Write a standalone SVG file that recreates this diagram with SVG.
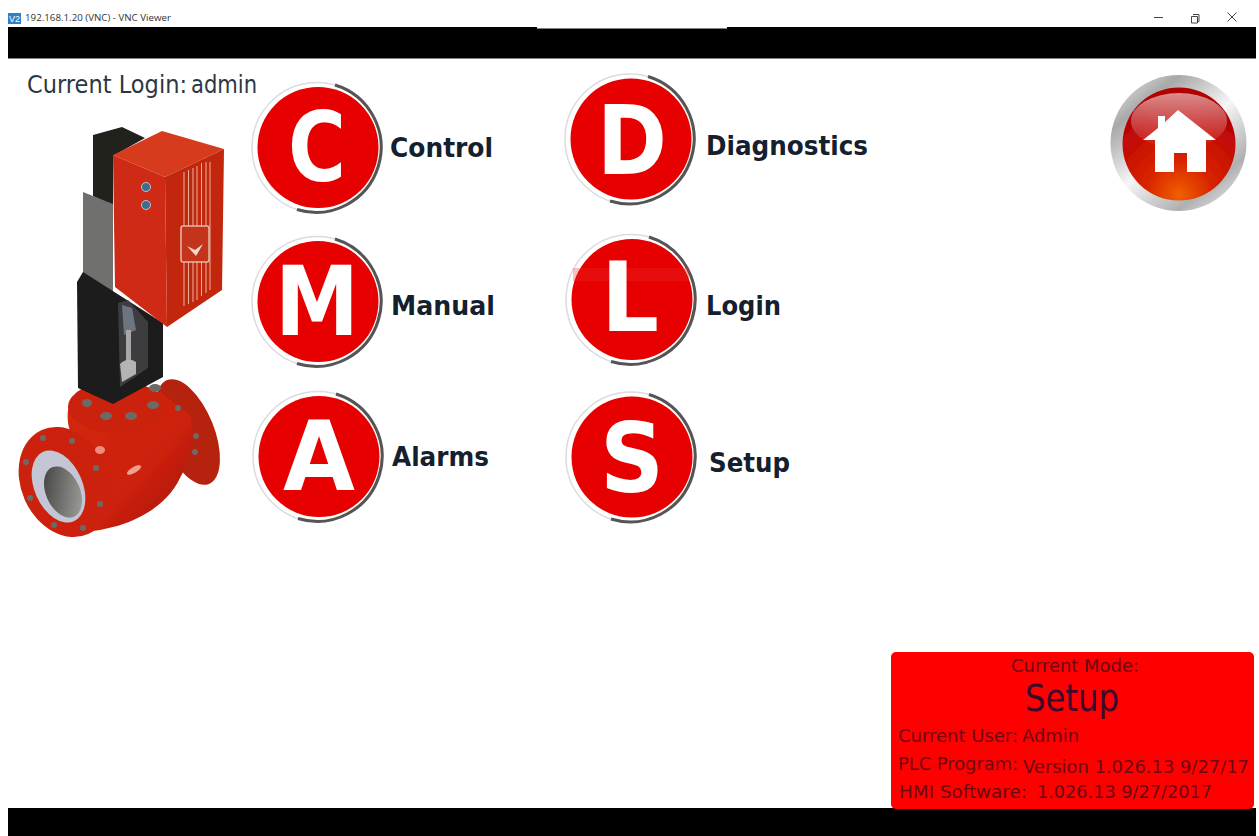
<svg xmlns="http://www.w3.org/2000/svg" width="1259" height="836" viewBox="0 0 1259 836">
<style>
text{font-family:"DejaVu Sans","Liberation Sans",sans-serif}
.lbl{font-size:27px;font-weight:700;fill:#15202e}
.ltr{font-weight:700;fill:#fff;font-size:97px}
.st{font-size:18px;fill:#6c0812}
.login{font-size:24px;fill:#2b3742}
.ttl{font-size:9.5px;fill:#333;font-family:"Open Sans","Liberation Sans",sans-serif}
.halo{fill:#fff;stroke:#dcdcdc;stroke-width:1.5}
.shade{fill:none;stroke:#555;stroke-width:3}
.red{fill:#e60000}
.bolt{fill:#6d6a66}
.win{fill:none;stroke:#444;stroke-width:1}
.btn{filter:url(#softer)}
</style>
<defs>
<filter id="soft" x="-5%" y="-5%" width="110%" height="110%"><feGaussianBlur stdDeviation="0.7"/></filter>
<filter id="softer" x="-5%" y="-5%" width="110%" height="110%"><feGaussianBlur stdDeviation="0.4"/></filter>
<linearGradient id="chrome" x1="0.1" y1="0" x2="0.9" y2="1"><stop offset="0" stop-color="#e4e4e4"/><stop offset="0.2" stop-color="#a8a8a8"/><stop offset="0.5" stop-color="#f6f6f6"/><stop offset="0.8" stop-color="#b0b0b0"/><stop offset="1" stop-color="#ececec"/></linearGradient>
<radialGradient id="homeRed" cx="0.5" cy="0.95" r="0.85"><stop offset="0" stop-color="#f06000"/><stop offset="0.35" stop-color="#d82400"/><stop offset="0.8" stop-color="#c00808"/><stop offset="1" stop-color="#b00000"/></radialGradient>
<linearGradient id="gloss" x1="0" y1="0" x2="0" y2="1"><stop offset="0" stop-color="#fff" stop-opacity="0.55"/><stop offset="1" stop-color="#fff" stop-opacity="0"/></linearGradient>
<linearGradient id="bodyRed" x1="0" y1="0" x2="1" y2="1"><stop offset="0" stop-color="#d42a10"/><stop offset="0.6" stop-color="#cc200c"/><stop offset="1" stop-color="#a01808"/></linearGradient>
<linearGradient id="bore" x1="0" y1="0" x2="1" y2="1"><stop offset="0" stop-color="#3a3a38"/><stop offset="1" stop-color="#a8a8a4"/></linearGradient>
</defs>
<rect width="1259" height="836" fill="#fff"/>

<g id="title-bar">
<rect x="8" y="13" width="13" height="11" fill="#2f80c8"/>
<text x="14.500" y="22" font-size="9" fill="#fff" text-anchor="middle" style="font-family:'Liberation Sans',sans-serif">V2</text>
<text class="ttl" x="25" y="21" textLength="146" lengthAdjust="spacingAndGlyphs">192.168.1.20 (VNC) - VNC Viewer</text>
<path class="win" d="M1154 17.500h9M1193 14.500h6v7h-2M1191.500 16.500h6v6.500h-6zM1227.500 12.500l9 9M1236.500 12.500l-9 9"/>
</g>
<g id="top-bar">
<rect x="8" y="27" width="1248" height="31.500" fill="#000"/>
<rect x="537" y="27" width="190" height="1.500" fill="#fff"/>
</g>
<rect id="bottom-bar" x="8" y="808" width="1248" height="28" fill="#000"/>

<text id="current-login" class="login"><tspan x="27" y="93" textLength="160" lengthAdjust="spacingAndGlyphs">Current Login:</tspan><tspan x="191" y="93" textLength="66" lengthAdjust="spacingAndGlyphs">admin</tspan></text>

<g id="valve" filter="url(#soft)">
<ellipse cx="188" cy="432" rx="26" ry="56" transform="rotate(-22 188 432)" fill="#b5200e"/>
<path d="M68 410C66 428 72 440 84 448C70 460 66 470 80 532C125 530 165 510 180 478C190 460 195 440 190 415L160 392Z" fill="url(#bodyRed)"/>
<ellipse cx="117" cy="407" rx="49" ry="26" fill="#cb220e"/>
<ellipse cx="65" cy="482" rx="44" ry="57" transform="rotate(-24 65 482)" fill="#cc2410"/>
<ellipse cx="58.500" cy="486.500" rx="24" ry="38" transform="rotate(-24 58.500 486.500)" fill="#c4c6d6"/>
<ellipse cx="63" cy="492" rx="17" ry="27" transform="rotate(-24 63 492)" fill="url(#bore)"/>
<ellipse cx="134" cy="470" rx="8" ry="3" transform="rotate(-30 134 470)" fill="#f0a090"/>
<ellipse cx="100" cy="450" rx="5" ry="4" fill="#eb8e7e"/>
<g class="bolt">
<ellipse cx="87" cy="403" rx="5" ry="4"/><ellipse cx="106" cy="416" rx="6" ry="4"/><ellipse cx="131" cy="416" rx="6" ry="4"/><ellipse cx="153" cy="405" rx="6" ry="4"/><ellipse cx="155" cy="388" rx="6" ry="4"/>
<circle cx="96" cy="468" r="3"/><circle cx="100" cy="504" r="3"/><circle cx="83" cy="528" r="3"/><circle cx="54" cy="525" r="3"/><circle cx="30" cy="498" r="3"/><circle cx="26" cy="462" r="3"/><circle cx="43" cy="438" r="3"/><circle cx="72" cy="441" r="3"/>
<circle cx="178" cy="408" r="3"/><circle cx="196" cy="436" r="3"/><circle cx="195" cy="452" r="3"/>
</g>
<path d="M93 135L122 127L145 138L113 156V206L93 196Z" fill="#20201f"/>
<path d="M83 192L113 204V292L83 276Z" fill="#6f6f6e"/>
<path d="M77 282L83 272L163 323V377L113 404L78 388Z" fill="#1c1c1c"/>
<path d="M118 303L128 300L148 322V368L120 387Z" fill="#3c3e40"/>
<path d="M122 305L132 308L136 330L124 335Z" fill="#6d7580"/>
<path d="M126 330H131V362H126Z" fill="#a8a8a8"/>
<path d="M120 364Q128 356 136 362V374L122 382Z" fill="#b4b4b2"/>
<path d="M113 155L162 131L224 149L165 177Z" fill="#d53a1c"/>
<path d="M113 155L165 177L167 327L115 287Z" fill="#cf2c14"/>
<path d="M165 177L224 149L222 290L167 327Z" fill="#c2280f"/>
<path d="M184 172V306M188.500 170V304M193 168V302M197 166V300M201.500 163V296M206 162V293M210 162V290" stroke="#e8b09c" stroke-width="1" fill="none"/>
<rect x="181" y="226" width="28" height="36" rx="2" fill="#c2361c" stroke="#e8b8a8" stroke-width="1.500"/>
<path d="M187 246L195 250L203 244L196 256Z" fill="#eed8d0"/>
<circle cx="146" cy="187" r="4.500" fill="#3c6c8c" stroke="#b8c4cc"/>
<circle cx="146" cy="205" r="4.500" fill="#3c6c8c" stroke="#b8c4cc"/>
</g>

<g id="btn-control">
<g class="btn">
<circle class="halo" cx="317" cy="147.500" r="65"/>
<path class="shade" d="M335 85A65 65 0 0 1 297 209.500"/>
<circle class="red" cx="318" cy="147.500" r="60.500"/>
<text class="ltr" x="288" y="181" textLength="58" lengthAdjust="spacingAndGlyphs">C</text>
</g>
<text class="lbl" x="390" y="157" textLength="103" lengthAdjust="spacingAndGlyphs">Control</text>
</g>
<g id="btn-diagnostics">
<g class="btn">
<circle class="halo" cx="630" cy="139" r="65"/>
<path class="shade" d="M648 76.500A65 65 0 0 1 610 201"/>
<circle class="red" cx="631" cy="139" r="60.500"/>
<text class="ltr" x="597" y="174" textLength="70" lengthAdjust="spacingAndGlyphs">D</text>
</g>
<text class="lbl" x="706" y="155" textLength="162" lengthAdjust="spacingAndGlyphs">Diagnostics</text>
</g>
<g id="btn-manual">
<g class="btn">
<circle class="halo" cx="317" cy="301.500" r="65"/>
<path class="shade" d="M335 239A65 65 0 0 1 297 363.500"/>
<circle class="red" cx="318" cy="301.500" r="60.500"/>
<text class="ltr" x="275" y="335" textLength="84" lengthAdjust="spacingAndGlyphs">M</text>
</g>
<text class="lbl" x="391" y="315" textLength="104" lengthAdjust="spacingAndGlyphs">Manual</text>
</g>
<g id="btn-login">
<g class="btn">
<circle class="halo" cx="631" cy="299.500" r="65"/>
<path class="shade" d="M649 237A65 65 0 0 1 611 361.500"/>
<circle class="red" cx="632" cy="299.500" r="60.500"/>
<rect x="573" y="268" width="116" height="13" fill="#ee2a2a" opacity="0.3"/>
<text class="ltr" x="601" y="331" textLength="58" lengthAdjust="spacingAndGlyphs">L</text>
</g>
<text class="lbl" x="706" y="315" textLength="75" lengthAdjust="spacingAndGlyphs">Login</text>
</g>
<g id="btn-alarms">
<g class="btn">
<circle class="halo" cx="318" cy="456.500" r="65"/>
<path class="shade" d="M336 394A65 65 0 0 1 298 518.500"/>
<circle class="red" cx="319" cy="456.500" r="60.500"/>
<text class="ltr" x="283" y="490" textLength="72" lengthAdjust="spacingAndGlyphs">A</text>
</g>
<text class="lbl" x="392" y="466" textLength="97" lengthAdjust="spacingAndGlyphs">Alarms</text>
</g>
<g id="btn-setup">
<g class="btn">
<circle class="halo" cx="631" cy="457" r="65"/>
<path class="shade" d="M649 394.500A65 65 0 0 1 611 519"/>
<circle class="red" cx="632" cy="457" r="60.500"/>
<text class="ltr" x="600" y="492" textLength="64" lengthAdjust="spacingAndGlyphs">S</text>
</g>
<text class="lbl" x="709" y="472" textLength="81" lengthAdjust="spacingAndGlyphs">Setup</text>
</g>

<g id="btn-home" filter="url(#soft)">
<circle cx="1178.500" cy="143" r="68" fill="url(#chrome)"/>
<circle cx="1179" cy="144" r="56.500" fill="url(#homeRed)"/>
<ellipse cx="1179" cy="121" rx="48" ry="28" fill="url(#gloss)"/>
<path d="M1143 140L1158 128V116H1165V122L1178 110L1216 140H1206V172H1187V153H1174V172H1155V140Z" fill="#fff"/>
</g>

<g id="status-panel">
<rect x="891" y="652" width="363" height="157" rx="5" fill="#fe0000"/>
<text class="st" x="1011" y="672" textLength="128" lengthAdjust="spacingAndGlyphs">Current Mode:</text>
<text x="1025" y="711" font-size="37" fill="#3c0a2c" textLength="94" lengthAdjust="spacingAndGlyphs">Setup</text>
<text class="st" x="898" y="742" textLength="120" lengthAdjust="spacingAndGlyphs">Current User:</text>
<text class="st" x="1022" y="742" textLength="57" lengthAdjust="spacingAndGlyphs">Admin</text>
<text class="st" x="898" y="770" textLength="120" lengthAdjust="spacingAndGlyphs">PLC Program:</text>
<text class="st" x="1023" y="773" textLength="226" lengthAdjust="spacingAndGlyphs">Version 1.026.13 9/27/17</text>
<text class="st" x="899" y="798" textLength="128" lengthAdjust="spacingAndGlyphs">HMI Software:</text>
<text class="st" x="1037" y="798" textLength="175" lengthAdjust="spacingAndGlyphs">1.026.13 9/27/2017</text>
</g>
</svg>
